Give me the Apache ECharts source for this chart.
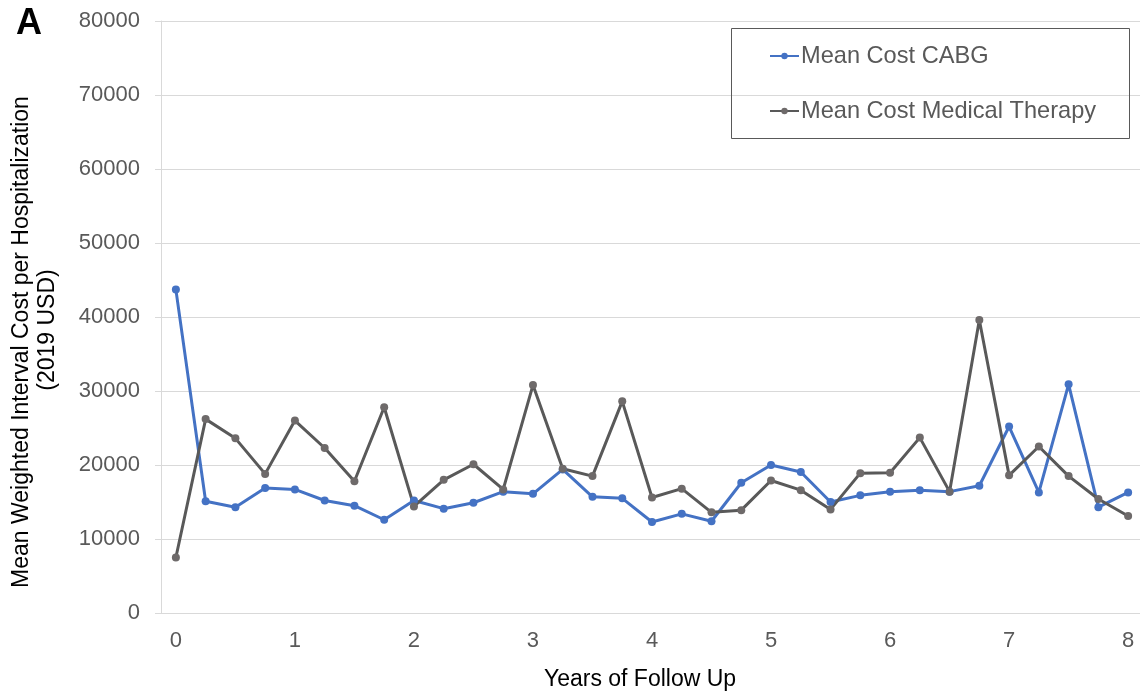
<!DOCTYPE html>
<html>
<head>
<meta charset="utf-8">
<script src="https://cdn.jsdelivr.net/npm/echarts@6/dist/echarts.min.js"></script>
<style>
html,body{margin:0;padding:0;background:#fff;}
#chart{width:1140px;height:696px;}
</style>
</head>
<body>
<div id="chart"></div>
<script>
const years = ["0","0.25","0.5","0.75","1","1.25","1.5","1.75","2","2.25","2.5","2.75","3","3.25","3.5","3.75","4","4.25","4.5","4.75","5","5.25","5.5","5.75","6","6.25","6.5","6.75","7","7.25","7.5","7.75","8"];
const cabg = [43700,15100,14300,16900,16700,15200,14500,12600,15200,14100,14900,16400,16100,19400,15700,15500,12300,13400,12400,17600,20000,19050,15000,15900,16400,16600,16400,17200,25200,16300,30900,14300,16300];
const medical = [7500,26200,23600,18800,26000,22300,17800,27800,14400,18000,20100,16700,30800,19500,18500,28600,15600,16800,13600,13900,17900,16600,14000,18900,18950,23700,16400,39600,18600,22500,18500,15400,13100];
const seriesNames = ["Mean Cost CABG","Mean Cost Medical Therapy"];
const yTitle = ["Mean Weighted Interval Cost per Hospitalization","(2019 USD)"];
const xTitle = "Years of Follow Up";
const yTicks = {min:0, max:80000, interval:10000};
const FONT = 'Liberation Sans, Arial, sans-serif';

const chart = echarts.init(document.getElementById('chart'));
chart.setOption({
  animation:false,
  backgroundColor:'#ffffff',
  textStyle:{fontFamily:FONT},
  title:{text:'A', left:11, top:1, textStyle:{fontSize:36, fontWeight:'bold', color:'#000', fontFamily:FONT}},
  grid:{left:161, right:-3, top:21, bottom:83, outerBoundsMode:'none', containLabel:false},
  graphic:[
    {type:'rect', shape:{x:731.5, y:28.5, width:398, height:110}, style:{fill:'none', stroke:'#595959', lineWidth:1}, z:10},
    {type:'text', x:22, y:342, rotation:Math.PI/2, style:{text:yTitle[0], fontSize:23, fill:'#000', fontFamily:FONT, textAlign:'center', textVerticalAlign:'middle'}},
    {type:'text', x:48, y:330, rotation:Math.PI/2, style:{text:yTitle[1], fontSize:23, fill:'#000', fontFamily:FONT, textAlign:'center', textVerticalAlign:'middle'}}
  ],
  legend:{
    orient:'vertical', left:769, top:44, itemGap:31, itemWidth:29, itemHeight:8,
    padding:0,
    textStyle:{fontSize:23.6, color:'#595959', padding:[0,0,0,-3]},
    data:seriesNames
  },
  xAxis:{
    type:'category', data:years, boundaryGap:true,
    name:xTitle, nameLocation:'middle', nameGap:55,
    nameTextStyle:{fontSize:23, color:'#000', padding:[0,24,0,0]},
    axisLine:{show:false}, axisTick:{show:false},
    axisLabel:{interval:3, fontSize:22, color:'#595959', margin:17,
      formatter:function(v){return String(parseInt(v,10));}},
    splitLine:{show:false}
  },
  yAxis:{
    type:'value', min:yTicks.min, max:yTicks.max, interval:yTicks.interval,
    axisLine:{show:true, lineStyle:{color:'#d9d9d9', width:1}},
    axisTick:{show:true, length:6, lineStyle:{color:'#d9d9d9'}},
    axisLabel:{fontSize:22, color:'#595959', margin:21, formatter:function(v){return String(v);}},
    splitLine:{lineStyle:{color:'#d9d9d9', width:1}}
  },
  series:[
    {name:seriesNames[0], type:'line', data:cabg, symbol:'circle', symbolSize:8,
     lineStyle:{color:'#4472c4', width:3}, itemStyle:{color:'#4472c4'}},
    {name:seriesNames[1], type:'line', data:medical, symbol:'circle', symbolSize:8,
     lineStyle:{color:'#595959', width:3}, itemStyle:{color:'#6e6a6a'}}
  ]
});
</script>
</body>
</html>
